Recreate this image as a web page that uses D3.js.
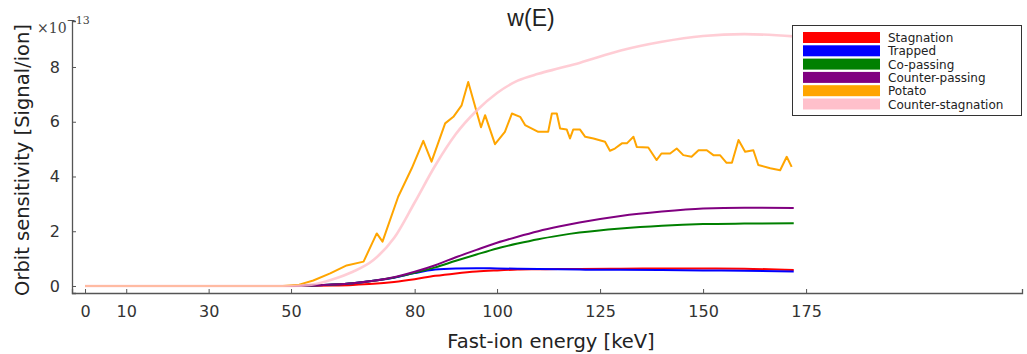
<!DOCTYPE html>
<html>
<head>
<meta charset="utf-8">
<script src="https://cdn.jsdelivr.net/npm/d3@7"></script>
<style>
  html, body { margin: 0; padding: 0; background: #fff; }
  svg { display: block; }
</style>
</head>
<body>
<svg id="chart" width="1027" height="354"></svg>
<script>
// Orbit sensitivity w(E) per orbit class, in units of 1e-13 signal/ion
const energySmooth = [0, 50, 55, 60, 65, 70, 75, 80, 85, 90, 95, 100, 105, 110, 115, 120, 130, 140, 150, 160, 172];
const stagnation      = [0, 0, 0.01, 0.02, 0.04, 0.08, 0.15, 0.25, 0.37, 0.46, 0.53, 0.57, 0.60, 0.61, 0.62, 0.62, 0.63, 0.64, 0.64, 0.63, 0.58];
const trapped         = [0, 0, 0.02, 0.05, 0.10, 0.19, 0.30, 0.47, 0.60, 0.64, 0.65, 0.64, 0.63, 0.62, 0.61, 0.60, 0.59, 0.58, 0.57, 0.56, 0.53];
const coPassing       = [0, 0, 0.02, 0.05, 0.10, 0.19, 0.31, 0.48, 0.68, 0.92, 1.15, 1.37, 1.55, 1.71, 1.84, 1.95, 2.10, 2.20, 2.26, 2.28, 2.29];
const counterPassing  = [0, 0, 0.02, 0.05, 0.10, 0.19, 0.32, 0.52, 0.76, 1.05, 1.32, 1.58, 1.80, 2.00, 2.17, 2.32, 2.56, 2.72, 2.83, 2.86, 2.85];
const counterStagnation = [0, 0, 0.05, 0.24, 0.52, 0.95, 1.75, 3.05, 4.40, 5.55, 6.40, 7.05, 7.50, 7.75, 7.95, 8.15, 8.60, 8.92, 9.13, 9.20, 9.12];

const energyPotato = [0, 48, 52, 55.4, 59.5, 63.5, 67.6, 70.8, 72.2, 76, 79.3, 82.1, 84.1, 87.4, 89.4, 91.4, 93,
  96.1, 97.1, 99.5, 101.9, 103.6, 105.6, 106.8, 110, 112.4, 113.3, 114.5, 115.3, 116.9, 117.7, 118.5, 120.1,
  121.4, 123.4, 126.2, 127.4, 128.6, 130.3, 131.5, 133.1, 133.9, 136.7, 138.7, 139.9, 142, 143.6, 145.2, 147.2,
  148.9, 150.9, 152.5, 154.1, 155.7, 157, 158.6, 160.2, 162.2, 163.4, 166.3, 168.7, 170.3, 171.5];
const potato = [0, 0, 0.05, 0.2, 0.46, 0.75, 0.89, 1.92, 1.62, 3.26, 4.3, 5.3, 4.54, 5.94, 6.18, 6.6, 7.45,
  5.8, 6.24, 5.18, 5.63, 6.3, 6.18, 5.88, 5.63, 5.63, 6.3, 6.3, 5.75, 5.72, 5.39, 5.72, 5.72,
  5.45, 5.39, 5.27, 4.94, 5.02, 5.21, 5.21, 5.45, 5.08, 5.06, 4.6, 4.84, 4.84, 5.02, 4.78, 4.72,
  4.96, 4.96, 4.78, 4.78, 4.5, 4.5, 5.33, 4.9, 4.96, 4.42, 4.3, 4.23, 4.72, 4.35];

const seriesNames  = ["Stagnation", "Trapped", "Co-passing", "Counter-passing", "Potato", "Counter-stagnation"];
const seriesColors = ["#ff0000", "#0000ff", "#008000", "#800080", "#ffa500", "#ffc0cb"];

const xTicks = [0, 10, 30, 50, 80, 100, 125, 150, 175];
const yTicks = [0, 2, 4, 6, 8];

const svg = d3.select("#chart");
const plotLeft = 72, plotRight = 1022, plotTop = 21, plotBottom = 293;

const x = d3.scaleLinear().domain([-3.16, 227.4]).range([plotLeft, plotRight]);
const y = d3.scaleLinear().domain([-0.256, 9.68]).range([plotBottom, plotTop]);

// axes (ticks point inward)
const axisColor = "#555";
const gx = svg.append("g").attr("transform", `translate(0,${plotBottom})`)
  .call(d3.axisBottom(x).tickValues(xTicks).tickSize(-4).tickPadding(10).tickFormat(d3.format("d")));
const gy = svg.append("g").attr("transform", `translate(${plotLeft},0)`)
  .call(d3.axisLeft(y).tickValues(yTicks).tickSize(-4).tickPadding(12).tickFormat(d3.format("d")));
[gx, gy].forEach(g => {
  g.select(".domain").attr("stroke", axisColor).attr("stroke-width", 1.3);
  g.selectAll(".tick line").attr("stroke", axisColor);
  g.selectAll(".tick text").attr("fill", "#333").attr("font-family", "DejaVu Sans").attr("font-size", 16);
});
gx.selectAll(".tick text").attr("dy", "0.85em");

// curves
const smoothData = [stagnation, trapped, coPassing, counterPassing];
const smoothLine = d3.line().x(d => x(d[0])).y(d => y(d[1])).curve(d3.curveMonotoneX);
const plainLine = d3.line().x(d => x(d[0])).y(d => y(d[1]));

const plot = svg.append("g");
function drawSmooth(vals, color, width, opacity) {
  plot.append("path")
    .datum(energySmooth.map((e, i) => [e, vals[i]]))
    .attr("fill", "none").attr("stroke", color).attr("stroke-width", width)
    .attr("stroke-opacity", opacity)
    .attr("stroke-linejoin", "round").attr("d", smoothLine);
}
smoothData.forEach((vals, i) => drawSmooth(vals, seriesColors[i], 2, 1));
plot.append("path")
  .datum(energyPotato.map((e, i) => [e, potato[i]]))
  .attr("fill", "none").attr("stroke", seriesColors[4]).attr("stroke-width", 2)
  .attr("stroke-linejoin", "round").attr("d", plainLine);
drawSmooth(counterStagnation, seriesColors[5], 2.6, 0.8);

// exponent label
const expo = svg.append("text").attr("x", 37).attr("y", 33)
  .attr("font-family", "DejaVu Serif").attr("font-size", 14).attr("fill", "#444");
expo.append("tspan").text("×10");
expo.append("tspan").attr("dy", -9).attr("font-size", 11).text("−13");

// titles
svg.append("text").attr("x", 551).attr("y", 348).attr("text-anchor", "middle")
  .attr("font-family", "DejaVu Sans").attr("font-size", 19.5).attr("fill", "#222").text("Fast-ion energy [keV]");
svg.append("text").attr("transform", "translate(29,160) rotate(-90)").attr("text-anchor", "middle")
  .attr("font-family", "DejaVu Sans").attr("font-size", 19.5).attr("fill", "#222").text("Orbit sensitivity [Signal/ion]");
svg.append("text").attr("x", 531).attr("y", 26).attr("text-anchor", "middle")
  .attr("font-family", "Liberation Sans").attr("font-size", 23).attr("fill", "#222").text("w(E)");

// legend
const lg = svg.append("g");
lg.append("rect").attr("x", 792.5).attr("y", 25.5).attr("width", 229).attr("height", 90)
  .attr("fill", "#fff").attr("stroke", "#333").attr("stroke-width", 1);
seriesNames.forEach((name, i) => {
  const cy = 37.5 + i * 13.3;
  lg.append("rect").attr("x", 803).attr("y", cy - 5.5).attr("width", 77).attr("height", 11)
    .attr("fill", seriesColors[i]);
  lg.append("text").attr("x", 888).attr("y", cy + 4.5)
    .attr("font-family", "DejaVu Sans").attr("font-size", 12).attr("fill", "#222").text(name);
});
</script>
</body>
</html>
